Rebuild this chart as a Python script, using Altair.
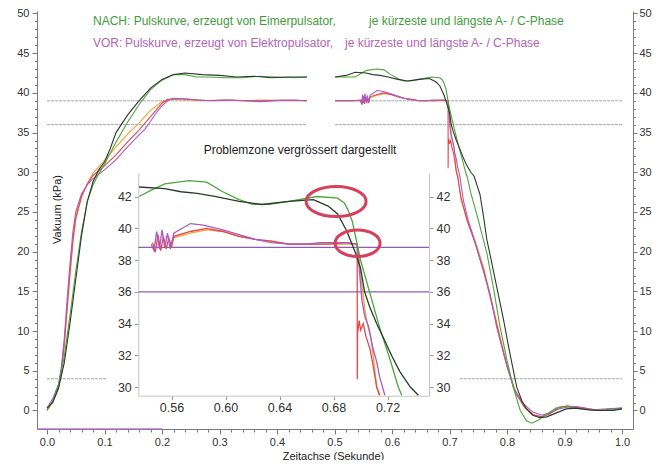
import altair as alt
import pandas as pd

# ---------------- data ----------------
# time (s), vacuum (kPa)
NACH_DUNKEL = [
    (0.0, 0.3), (0.01, 1.0), (0.02, 2.8), (0.03, 6.0), (0.04, 11.0), (0.05, 16.5), (0.06, 22.0),
    (0.07, 26.3), (0.08, 28.8), (0.09, 30.3), (0.10, 31.3), (0.11, 33.0), (0.12, 35.0), (0.14, 37.2),
    (0.16, 39.0), (0.18, 40.6), (0.20, 41.7), (0.22, 42.3), (0.24, 42.5), (0.27, 42.3), (0.30, 42.2),
    (0.33, 42.0), (0.36, 42.1), (0.39, 41.9), (0.42, 42.0), (0.452, 42.0),
    (0.501, 42.0), (0.52, 42.2), (0.536, 42.6), (0.555, 42.5), (0.567, 42.3), (0.579, 42.2),
    (0.593, 42.0), (0.61, 41.7), (0.627, 41.5), (0.647, 41.7), (0.665, 41.8), (0.676, 41.4),
    (0.683, 40.9), (0.69, 39.8), (0.696, 38.5), (0.70, 37.5), (0.703, 36.0), (0.707, 35.0),
    (0.712, 34.0), (0.717, 33.1), (0.723, 32.0), (0.729, 31.0), (0.737, 30.0), (0.7428, 29.5),
    (0.753, 27.2), (0.759, 24.5), (0.765, 21.5), (0.77, 19.8), (0.782, 15.6), (0.794, 11.4),
    (0.805, 7.2), (0.817, 2.9), (0.826, 1.2), (0.834, 0.2), (0.845, -0.6), (0.857, -0.9),
    (0.869, -0.8), (0.886, -0.3), (0.903, 0.2), (0.92, 0.3), (0.94, 0.1), (0.96, 0.0),
    (0.985, 0.0), (1.0, 0.2),
]
NACH_GRUEN = [
    (0.0, 0.0), (0.01, 1.2), (0.02, 3.2), (0.03, 6.8), (0.04, 12.0), (0.05, 17.5), (0.06, 22.5),
    (0.07, 26.3), (0.08, 28.4), (0.09, 29.8), (0.10, 31.0), (0.12, 33.8), (0.14, 36.3), (0.16, 38.5),
    (0.18, 40.4), (0.20, 41.6), (0.22, 42.3), (0.24, 42.3), (0.26, 42.0), (0.28, 42.0), (0.31, 41.9),
    (0.34, 41.9), (0.37, 42.1), (0.40, 42.0), (0.43, 41.9), (0.452, 42.0),
    (0.501, 42.0), (0.52, 42.0), (0.536, 42.0), (0.545, 42.4), (0.555, 42.8), (0.573, 43.0),
    (0.586, 42.9), (0.598, 42.3), (0.61, 41.8), (0.62, 41.5), (0.632, 41.5), (0.647, 41.7),
    (0.668, 42.0), (0.683, 41.9), (0.688, 41.6), (0.691, 41.1), (0.694, 40.4), (0.6955, 39.8),
    (0.6975, 39.0), (0.70, 38.0), (0.707, 35.9), (0.714, 33.8), (0.722, 31.7), (0.728, 30.0),
    (0.7305, 29.5), (0.737, 27.4), (0.75, 24.0), (0.765, 19.8), (0.776, 15.6), (0.788, 10.5),
    (0.80, 6.3), (0.811, 2.9), (0.823, 0.0), (0.834, -1.3), (0.843, -1.6), (0.855, -1.2),
    (0.87, -0.4), (0.885, 0.3), (0.90, 0.5), (0.92, 0.3), (0.95, 0.0), (0.975, 0.1), (1.0, 0.2),
]
VOR_LILA = [
    (0.0, 0.3), (0.01, 1.5), (0.02, 3.3), (0.025, 5.5), (0.03, 9.0), (0.035, 14.0), (0.04, 18.5),
    (0.045, 22.5), (0.05, 25.0), (0.06, 27.3), (0.07, 28.4), (0.08, 29.2), (0.10, 30.3), (0.12, 31.6),
    (0.14, 33.2), (0.16, 34.7), (0.17, 35.4), (0.18, 36.4), (0.19, 37.5), (0.20, 38.4), (0.21, 39.0),
    (0.22, 39.3), (0.25, 39.2), (0.28, 39.0), (0.31, 39.1), (0.34, 39.0), (0.37, 38.9), (0.40, 39.0),
    (0.43, 39.1), (0.452, 39.0),
    (0.501, 39.0), (0.53, 39.0), (0.545, 39.0), (0.547, 38.6), (0.549, 39.8), (0.551, 38.7),
    (0.553, 39.9), (0.555, 38.8), (0.557, 39.7), (0.559, 38.7), (0.5617, 39.7), (0.574, 40.3),
    (0.5835, 40.2), (0.598, 39.9), (0.61, 39.6), (0.622, 39.3), (0.634, 39.1), (0.647, 39.0),
    (0.66, 39.0), (0.67, 39.1), (0.68, 39.1), (0.69, 39.1), (0.6975, 39.0), (0.699, 37.5),
    (0.701, 35.5), (0.703, 34.5), (0.706, 33.8), (0.709, 32.5), (0.712, 31.6), (0.714, 30.7),
    (0.718, 29.5), (0.724, 26.5), (0.733, 23.8), (0.745, 21.0), (0.753, 19.0), (0.77, 14.8),
    (0.782, 10.5), (0.794, 7.2), (0.811, 2.9), (0.828, 0.9), (0.845, -0.2), (0.86, -0.6),
    (0.875, -0.3), (0.89, 0.2), (0.91, 0.5), (0.93, 0.4), (0.95, 0.1), (0.975, 0.2), (1.0, 0.3),
]
VOR_ROT = [
    (0.0, 0.1), (0.01, 1.2), (0.02, 3.0), (0.025, 5.0), (0.03, 8.5), (0.035, 13.0), (0.04, 17.5),
    (0.045, 21.5), (0.05, 24.3), (0.06, 27.0), (0.07, 28.5), (0.08, 29.6), (0.10, 30.8), (0.12, 32.2),
    (0.14, 33.8), (0.16, 35.3), (0.18, 37.0), (0.20, 38.7), (0.21, 39.2), (0.23, 39.3), (0.26, 39.1),
    (0.29, 39.0), (0.32, 39.1), (0.35, 39.0), (0.38, 39.0), (0.41, 39.1), (0.452, 39.0),
    (0.501, 39.0), (0.53, 39.0), (0.546, 39.1), (0.548, 38.5), (0.55, 39.6), (0.552, 38.6),
    (0.554, 39.5), (0.556, 38.7), (0.558, 39.4), (0.56, 38.8), (0.5617, 39.5), (0.574, 39.8),
    (0.586, 40.0), (0.598, 39.8), (0.61, 39.5), (0.622, 39.3), (0.634, 39.2), (0.647, 39.0),
    (0.66, 39.0), (0.675, 39.0), (0.69, 39.1), (0.6975, 39.0), (0.6976, 30.5), (0.6978, 33.4),
    (0.699, 34.2), (0.70, 33.6), (0.702, 34.0), (0.704, 33.2), (0.707, 32.4), (0.709, 31.5),
    (0.712, 30.0), (0.714, 29.5), (0.72, 26.8), (0.73, 24.0), (0.745, 21.0), (0.76, 17.5),
    (0.775, 13.0), (0.788, 9.0), (0.80, 5.5), (0.815, 2.2), (0.83, 0.5), (0.845, -0.5),
    (0.86, -0.8), (0.875, -0.4), (0.89, 0.4), (0.905, 0.6), (0.92, 0.4), (0.94, 0.2), (0.96, 0.0),
    (0.98, 0.2), (1.0, 0.3),
]
VOR_ORANGE = [
    (0.0, 0.0), (0.01, 1.0), (0.02, 2.9), (0.025, 4.8), (0.03, 8.0), (0.035, 12.5), (0.04, 17.0),
    (0.045, 21.0), (0.05, 24.0), (0.06, 26.8), (0.07, 28.6), (0.08, 29.9), (0.10, 31.5), (0.12, 33.2),
    (0.14, 34.8), (0.16, 36.2), (0.18, 37.8), (0.20, 38.9), (0.215, 39.2), (0.24, 39.1), (0.27, 39.0),
    (0.30, 39.1), (0.34, 39.0), (0.38, 39.1), (0.42, 39.0), (0.452, 39.0),
    (0.501, 39.0), (0.53, 39.0), (0.56, 39.1), (0.5617, 39.4), (0.574, 39.7), (0.586, 39.9),
    (0.598, 39.8), (0.61, 39.5), (0.622, 39.3), (0.634, 39.2), (0.647, 39.0), (0.66, 39.0),
    (0.68, 39.0), (0.6975, 39.0), (0.699, 38.0), (0.701, 36.5), (0.703, 35.0), (0.705, 34.0),
    (0.708, 33.0), (0.71, 31.5), (0.712, 30.0), (0.7144, 29.5), (0.72, 26.5), (0.73, 24.3),
    (0.745, 21.3), (0.76, 17.8), (0.775, 13.3), (0.788, 9.3), (0.80, 5.7), (0.815, 2.3),
    (0.83, 0.4), (0.845, -0.6), (0.86, -0.8), (0.875, -0.3), (0.89, 0.3), (0.905, 0.5),
    (0.92, 0.5), (0.94, 0.2), (0.96, 0.1), (0.98, 0.1), (1.0, 0.2),
]

SERIES_NAMES = ["VOR orange", "VOR rot", "VOR lila", "NACH grün", "NACH dunkel"]
SERIES_DATA = [VOR_ORANGE, VOR_ROT, VOR_LILA, NACH_GRUEN, NACH_DUNKEL]
SERIES_COLORS = ["#f0a236", "#e4484c", "#a65ac6", "#4ca63c", "#2c3a2c"]

# reference levels (kPa) with their time spans
REF_MAIN_KPA = [39.0, 39.0, 36.0, 36.0, 4.0, 4.0]
REF_MAIN_T0 = [0.0, 0.501, 0.0, 0.501, 0.0, 0.718]
REF_MAIN_T1 = [0.452, 1.0, 0.452, 1.0, 0.104, 1.0]
REF_INSET_KPA = [38.8, 36.0]

# ellipse markers in the zoom panel (time, kPa)
ELLIPSE_1 = (0.6819, 41.69)
ELLIPSE_2 = (0.6978, 39.06)

X_MAJOR = [0.0, 0.1, 0.2, 0.3, 0.4, 0.5, 0.6, 0.7, 0.8, 0.9, 1.0]
X_MINOR = [round(i * 0.02, 2) for i in range(51)]
Y_MAJOR = [0, 5, 10, 15, 20, 25, 30, 35, 40, 45, 50]
Y_MINOR = list(range(0, 51))
IX_TICKS = [0.56, 0.60, 0.64, 0.68, 0.72]
IY_TICKS = [30, 32, 34, 36, 38, 40, 42]

NACH_TEXT = ["NACH: Pulskurve, erzeugt von Eimerpulsator,", "je kürzeste und längste A- / C-Phase"]
VOR_TEXT = ["VOR:", "Pulskurve, erzeugt von Elektropulsator,", "je kürzeste und längste A- / C-Phase"]
INSET_TITLE = "Problemzone vergrössert dargestellt"

# ---------------- tables ----------------
rows = []
for name, pts in zip(SERIES_NAMES, SERIES_DATA):
    for t, v in pts:
        rows.append({"serie": name, "t": t, "kPa": v,
                     "seg": name + ("-b" if t > 0.47 else "-a")})
curves = pd.DataFrame(rows)
ref_main = pd.DataFrame({"kPa": REF_MAIN_KPA, "t0": REF_MAIN_T0, "t1": REF_MAIN_T1})
ref_inset = pd.DataFrame({"kPa": REF_INSET_KPA, "t0": [0.5354] * 2, "t1": [0.7507] * 2})
base_line = pd.DataFrame({"kPa": [-2.33], "t0": [-0.0174], "t1": [0.2]})

FONT = "Liberation Sans"
W, H = 596, 418

MX = alt.Scale(domain=[-0.0174, 1.0191], nice=False, zero=False)
MY = alt.Scale(domain=[-2.33, 50.31], nice=False, zero=False)
IX = alt.Scale(domain=[0.5354, 0.7507], range=[101.3, 392], nice=False, zero=False)
IY = alt.Scale(domain=[29.47, 43.48], range=[384.7, 162], nice=False, zero=False)

color = alt.Color("serie:N", scale=alt.Scale(domain=SERIES_NAMES, range=SERIES_COLORS), legend=None)

# ---- main axes ----
ax_x_major = alt.Axis(orient="bottom", values=X_MAJOR, format=".1f", tickSize=5, labelPadding=2,
                      title="Zeitachse (Sekunde)", titleX=296, titleY=27, titleAlign="center",
                      titleBaseline="middle", titleFontSize=11, titleFontWeight="normal")
ax_y_major = alt.Axis(orient="left", values=Y_MAJOR, tickSize=5, labelPadding=3,
                      title="Vakuum (kPa)", titleX=20, titleY=198, titleAngle=270,
                      titleAlign="center", titleBaseline="middle", titleFontSize=11,
                      titleFontWeight="normal")
ax_x_minor = alt.Axis(orient="bottom", values=X_MINOR, labels=False, tickSize=3, title=None, domain=False)
ax_y_minor = alt.Axis(orient="left", values=Y_MINOR, labels=False, tickSize=2.5, title=None, domain=False)
ax_y_right = alt.Axis(orient="right", values=Y_MAJOR, tickSize=4, labelPadding=2, title=None)
ax_y_right_minor = alt.Axis(orient="right", values=Y_MINOR, labels=False, tickSize=2.5, title=None, domain=False)

ref_layer = alt.Chart(ref_main).mark_rule(color="#a4a4ae", strokeWidth=1, strokeDash=[3, 1]).encode(
    x=alt.X("t0:Q", scale=MX, axis=ax_x_major),
    x2="t1:Q",
    y=alt.Y("kPa:Q", scale=MY, axis=ax_y_major),
)
base_layer = alt.Chart(base_line).mark_rule(color="#b070c8", strokeWidth=1.5).encode(
    x=alt.X("t0:Q", scale=MX, axis=ax_x_minor),
    x2="t1:Q",
    y=alt.Y("kPa:Q", scale=MY, axis=ax_y_minor),
)
right_layer = alt.Chart(ref_main).mark_rule(opacity=0).encode(
    x=alt.X("t0:Q", scale=MX, axis=None),
    y=alt.Y("kPa:Q", scale=MY, axis=ax_y_right),
)
right_minor_layer = alt.Chart(ref_main).mark_rule(opacity=0).encode(
    x=alt.X("t0:Q", scale=MX, axis=None),
    y=alt.Y("kPa:Q", scale=MY, axis=ax_y_right_minor),
)
main_lines = alt.Chart(curves).mark_line(strokeWidth=1.1).encode(
    x=alt.X("t:Q", scale=MX, axis=None),
    y=alt.Y("kPa:Q", scale=MY, axis=None),
    color=color,
    detail="seg:N",
    order="t:Q",
)

# ---- inset ----
inset_ax_x = alt.Axis(orient="bottom", offset=-33.3, values=IX_TICKS, format=".2f", tickSize=4,
                      labelFontSize=12.5, title=None, domainColor="#c4c4c4", tickColor="#999")
inset_ax_yl = alt.Axis(orient="left", offset=-101.3, values=IY_TICKS, tickSize=4, labelPadding=3,
                       labelFontSize=12.5, title=None, domainColor="#c4c4c4", tickColor="#999")
inset_ax_yr = alt.Axis(orient="right", offset=-204, values=IY_TICKS, tickSize=4, labelPadding=3,
                       labelFontSize=12.5, title=None, domainColor="#c4c4c4", tickColor="#999")

inset_ref = alt.Chart(ref_inset).mark_rule(color="#8f5cb2", strokeWidth=1.2).encode(
    x=alt.X("t0:Q", scale=IX, axis=inset_ax_x),
    x2="t1:Q",
    y=alt.Y("kPa:Q", scale=IY, axis=inset_ax_yl),
)
inset_lines = alt.Chart(curves).transform_filter(
    "datum.t >= 0.5354 && datum.t <= 0.7507 && datum.kPa >= 29.47"
).mark_line(strokeWidth=1.3).encode(
    x=alt.X("t:Q", scale=IX, axis=None),
    y=alt.Y("kPa:Q", scale=IY, axis=inset_ax_yr),
    color=color,
    detail="seg:N",
    order="t:Q",
)
ell1 = alt.Chart(pd.DataFrame({"t": [ELLIPSE_1[0]], "kPa": [ELLIPSE_1[1]]})).mark_point(
    shape="M -1 0 A 1 0.5 0 1 1 1 0 A 1 0.5 0 1 1 -1 0 Z", size=3600, filled=False,
    strokeWidth=3, color="#d6405a", opacity=1
).encode(x=alt.X("t:Q", scale=IX, axis=None), y=alt.Y("kPa:Q", scale=IY, axis=None))
ell2 = alt.Chart(pd.DataFrame({"t": [ELLIPSE_2[0]], "kPa": [ELLIPSE_2[1]]})).mark_point(
    shape="M -1 0 A 1 0.59 0 1 1 1 0 A 1 0.59 0 1 1 -1 0 Z", size=2025, filled=False,
    strokeWidth=3, color="#d6405a", opacity=1
).encode(x=alt.X("t:Q", scale=IX, axis=None), y=alt.Y("kPa:Q", scale=IY, axis=None))

# ---- texts ----
one = pd.DataFrame({"a": [0]})


def label(text, px, py, colr, size=12, align="left"):
    return alt.Chart(one).mark_text(text=text, align=align, baseline="middle", fontSize=size,
                                    font=FONT, color=colr).encode(x=alt.value(px), y=alt.value(py))


GREEN_TXT, PURPLE_TXT = "#3f9c3c", "#b463b8"
texts = [
    label(NACH_TEXT[0], 56, 10, GREEN_TXT),
    label(NACH_TEXT[1], 332, 10, GREEN_TXT),
    label(VOR_TEXT[0], 56, 32, PURPLE_TXT),
    label(VOR_TEXT[1], 88, 32, PURPLE_TXT),
    label(VOR_TEXT[2], 308, 32, PURPLE_TXT),
    label(INSET_TITLE, 263, 139, "#222", size=12, align="center"),
]

chart = alt.layer(
    ref_layer, base_layer, right_layer, right_minor_layer, main_lines,
    inset_ref, inset_lines, ell1, ell2, *texts,
).resolve_scale(x="independent", y="independent").properties(
    width=W, height=H,
    autosize=alt.AutoSizeParams(type="none"),
    padding={"left": 29, "top": 3, "right": 25, "bottom": 31},
).configure_axis(
    grid=False, domainColor="#7a7a7a", tickColor="#7a7a7a", labelColor="#333",
    labelFont=FONT, labelFontSize=11, titleFont=FONT, titleColor="#222",
).configure_view(stroke=None)

chart.save("out.html", embed_options={"renderer": "svg", "actions": False})
